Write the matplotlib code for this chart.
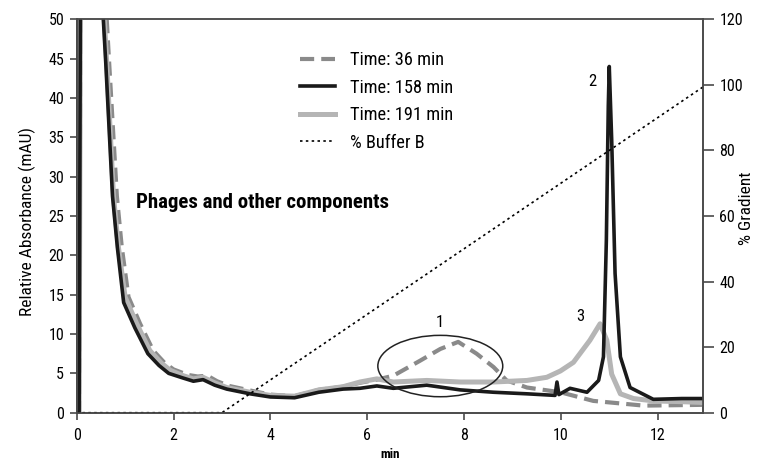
import matplotlib
matplotlib.use("Agg")
import matplotlib.pyplot as plt
from matplotlib import font_manager
from matplotlib.patches import Ellipse

# ---------------- data ----------------
x36 = [0, 0.05, 0.08, 0.62, 0.67, 0.75, 0.83, 0.93, 1.07, 1.31, 1.58, 1.82, 2.0, 2.3, 2.5, 2.7, 2.9, 3.15, 3.6,
       4.0, 4.5, 5.0, 5.5, 5.85, 6.2, 6.54, 7.09, 7.51, 7.88, 8.26, 8.61, 8.88, 9.3, 9.99, 10.67, 11.71, 12.93]
y36 = [0, 0, 60, 50, 44.5, 36, 27.5, 21.1, 14.7, 11.3, 7.9, 6.3, 5.5, 4.8, 4.6, 4.7, 4.0, 3.4, 2.8,
       2.3, 2.1, 2.9, 3.3, 3.8, 4.2, 4.7, 6.6, 8.1, 9.0, 7.5, 5.8, 4.1, 3.2, 2.6, 1.5, 0.9, 1.0]

x191 = [0, 0.05, 0.08, 0.57, 0.62, 0.69, 0.76, 0.86, 1.0, 1.24, 1.51, 1.75, 1.93, 2.2, 2.41, 2.61, 2.85, 3.1,
        3.58, 4.0, 4.5, 5.0, 5.5, 5.85, 6.2, 6.54, 7.23, 7.92, 8.61, 9.3, 9.71, 9.99, 10.26, 10.6, 10.81,
        10.95, 11.05, 11.23, 11.5, 11.91, 12.5, 12.93]
y191 = [0, 0, 60, 50, 44.5, 36, 27.5, 21.1, 14.7, 11.3, 7.9, 6.3, 5.4, 4.7, 4.3, 4.5, 3.8, 3.2,
        2.6, 2.2, 2.1, 2.9, 3.3, 3.9, 4.3, 3.9, 4.1, 3.9, 3.9, 4.1, 4.5, 5.3, 6.4, 9.2, 11.3,
        9.2, 4.9, 2.4, 1.8, 1.5, 1.4, 1.3]

x158 = [0, 0.05, 0.08, 0.55, 0.6, 0.67, 0.74, 0.84, 0.97, 1.2, 1.47, 1.7, 1.9, 2.2, 2.41, 2.61, 2.85, 3.1,
        3.58, 4.0, 4.5, 5.0, 5.5, 5.85, 6.2, 6.54, 7.23, 7.92, 8.61, 9.3, 9.88, 9.92, 9.96, 10.19, 10.54,
        10.78, 10.88, 10.94, 10.98, 11.0, 11.05, 11.12, 11.23, 11.43, 11.91, 12.5, 12.93]
y158 = [0, 0, 60, 50, 44.5, 36, 27.5, 21, 14, 10.8, 7.5, 6.0, 5.0, 4.4, 4.0, 4.2, 3.5, 3.0,
        2.4, 2.0, 1.9, 2.6, 3.0, 3.1, 3.4, 3.1, 3.5, 2.9, 2.6, 2.4, 2.2, 3.9, 2.3, 3.1, 2.6,
        4.1, 7.1, 21.9, 39, 44, 34.7, 17.7, 7.1, 3.2, 1.7, 1.8, 1.8]

xgrad = [0, 3.0, 13.0]
ygrad = [0, 0, 100]

xticks = [0, 2, 4, 6, 8, 10, 12]
yticks_left = [0, 5, 10, 15, 20, 25, 30, 35, 40, 45, 50]
yticks_right = [0, 20, 40, 60, 80, 100, 120]

labels = ["Time: 36 min", "Time: 158 min", "Time: 191 min", "% Buffer B"]

# ---------------- fonts ----------------
avail = {f.name for f in font_manager.fontManager.ttflist}
fam = None
for cand in ["Liberation Sans Narrow", "DejaVu Sans Condensed", "Roboto Condensed", "Liberation Sans"]:
    if cand in avail:
        fam = cand
        break
plt.rcParams["font.family"] = [fam, "DejaVu Sans"]

# ---------------- figure ----------------
W, H = 765, 468
X0, X1, Y0, Y1 = 76.7, 702.7, 412.7, 19.3
fig = plt.figure(figsize=(W / 100, H / 100), dpi=100)
ax = fig.add_axes([X0 / W, (H - Y0) / H, (X1 - X0) / W, (Y0 - Y1) / H])
ax2 = ax.twinx()

ax.plot(x36, y36, color="#8a8a8a", lw=3.0, dashes=(3.4, 1.7), solid_capstyle="butt", zorder=3, label=labels[0])
ax.plot(x158, y158, color="#1a1a1a", lw=2.6, zorder=4, label=labels[1])
ax.plot(x191, y191, color="#b5b5b5", lw=3.6, zorder=3.5, label=labels[2])
ax.plot(xgrad, [v * 50 / 120 for v in ygrad], color="black", lw=1.2, dashes=(1.5, 2.0), zorder=5, label=labels[3])

ax.set_xlim(0, 12.93)
ax.set_ylim(0, 50)
ax2.set_ylim(0, 120)

ax.set_xticks(xticks)
ax.set_yticks(yticks_left)
ax2.set_yticks(yticks_right)

for a in (ax, ax2):
    for s in a.spines.values():
        s.set_color("#4a4a4a")
        s.set_linewidth(1.2)
ax.spines["left"].set_color("#222222")
ax.spines["top"].set_color("#777777")

ax.tick_params(axis="both", direction="out", length=5, width=1.2, color="#4a4a4a", labelsize=11.5, pad=4)
ax.tick_params(axis="x", pad=6)
ax2.tick_params(axis="y", direction="out", length=8, width=1.2, color="#4a4a4a", labelsize=11.5, pad=4)

ax.set_xlabel("min", fontsize=9.5, fontweight="bold", va="center")
ax.xaxis.set_label_coords((390 - X0) / (X1 - X0), (Y0 - 455) / (Y0 - Y1))
ax.set_ylabel("Relative Absorbance (mAU)", fontsize=12.5, va="center")
ax.yaxis.set_label_coords((27 - X0) / (X1 - X0), (Y0 - 222) / (Y0 - Y1))
ax2.set_ylabel("% Gradient", fontsize=12.5, va="center", rotation=90)
ax2.yaxis.set_label_coords((746.7 - X0) / (X1 - X0), (Y0 - 208) / (Y0 - Y1))

# ellipse around peak 1
ax.add_patch(Ellipse((7.51, 5.93), 2.58, 7.8, fill=False, edgecolor="#222222", lw=1.1, zorder=6))

ax.text(7.49, 11.5, "1", fontsize=12, ha="center", va="center")
ax.text(10.64, 42.1, "2", fontsize=12, ha="center", va="center")
ax.text(10.4, 12.2, "3", fontsize=12, ha="center", va="center")
ax.text(1.23, 26.7, "Phages and other components", fontsize=15, fontweight="bold", ha="left", va="center")

leg = ax.legend(loc="upper left", bbox_to_anchor=(300 / W, 1 - 51 / H), bbox_transform=fig.transFigure,
                frameon=False, fontsize=13.2, handlelength=1.9, handletextpad=0.8, labelspacing=0.52,
                borderpad=0, borderaxespad=0)

fig.savefig("out.png", dpi=100)
